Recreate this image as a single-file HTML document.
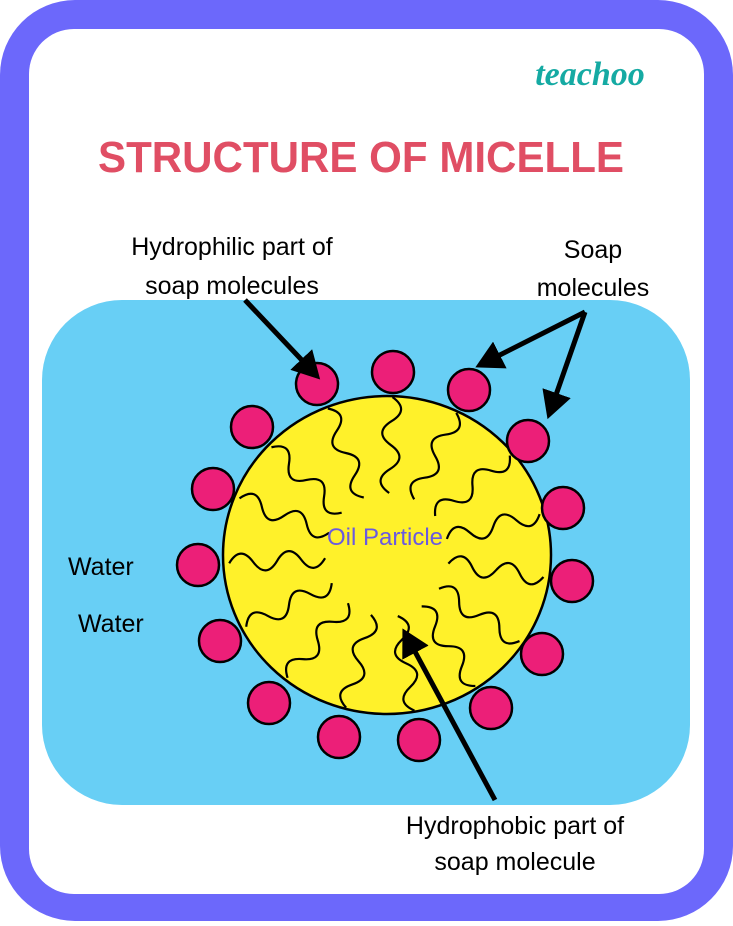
<!DOCTYPE html>
<html><head><meta charset="utf-8"><style>html,body{margin:0;padding:0;background:#fff}</style></head>
<body>
<svg width="733" height="921" viewBox="0 0 733 921" xmlns="http://www.w3.org/2000/svg" font-family="Liberation Sans, sans-serif">
<defs>
<path id="sq" d="M0,0 q12,-18 24,0 t24,0 t24,0 t24,0" fill="none" stroke="#000" stroke-width="2.2"/>
<marker id="ah" markerWidth="6" markerHeight="6" refX="4" refY="3" orient="auto" markerUnits="strokeWidth"><path d="M0,0 L5.5,3 L0,6 z" fill="#000"/></marker>
</defs>
<rect x="0" y="0" width="733" height="921" rx="75" fill="#6c68fb"/>
<rect x="29" y="29" width="675" height="865" rx="45" fill="#fff"/>
<text x="590" y="85" font-family="Liberation Serif, serif" font-style="italic" font-weight="bold" font-size="34" fill="#15aaa3" text-anchor="middle">teachoo</text>
<text x="361" y="172" font-weight="bold" font-size="44" fill="#e04e64" text-anchor="middle" textLength="526" lengthAdjust="spacingAndGlyphs">STRUCTURE OF MICELLE</text>
<rect x="42" y="300" width="648" height="505" rx="80" fill="#68cff5"/>
<ellipse cx="387" cy="555" rx="164" ry="159" fill="#fff12a" stroke="#000" stroke-width="2.5"/>
<g fill="#ec1f78" stroke="#000" stroke-width="2.5">
<circle cx="317" cy="384" r="21"/><circle cx="393" cy="372" r="21"/><circle cx="469" cy="390" r="21"/>
<circle cx="528" cy="441" r="21"/><circle cx="252" cy="427" r="21"/><circle cx="213" cy="489" r="21"/>
<circle cx="198" cy="565" r="21"/><circle cx="220" cy="641" r="21"/><circle cx="269" cy="703" r="21"/>
<circle cx="339" cy="737" r="21"/><circle cx="419" cy="740" r="21"/><circle cx="491" cy="708" r="21"/>
<circle cx="542" cy="654" r="21"/><circle cx="572" cy="581" r="21"/><circle cx="563" cy="508" r="21"/>
</g>
<g transform="translate(387,555)">
<use href="#sq" transform="rotate(-112) translate(158,0) rotate(180)"/>
<use href="#sq" transform="rotate(-88) translate(158,0) rotate(180)"/>
<use href="#sq" transform="rotate(-64) translate(158,0) rotate(180)"/>
<use href="#sq" transform="rotate(-39) translate(158,0) rotate(180)"/>
<use href="#sq" transform="rotate(-137) translate(158,0) rotate(180)"/>
<use href="#sq" transform="rotate(-159) translate(158,0) rotate(180)"/>
<use href="#sq" transform="rotate(177) translate(158,0) rotate(180)"/>
<use href="#sq" transform="rotate(153) translate(158,0) rotate(180)"/>
<use href="#sq" transform="rotate(129) translate(158,0) rotate(180)"/>
<use href="#sq" transform="rotate(105) translate(158,0) rotate(180)"/>
<use href="#sq" transform="rotate(80) translate(158,0) rotate(180)"/>
<use href="#sq" transform="rotate(56) translate(158,0) rotate(180)"/>
<use href="#sq" transform="rotate(33) translate(158,0) rotate(180)"/>
<use href="#sq" transform="rotate(8) translate(158,0) rotate(180)"/>
<use href="#sq" transform="rotate(-15) translate(158,0) rotate(180)"/>
</g>
<text x="385" y="545" font-size="24" fill="#6a5ae0" text-anchor="middle">Oil Particle</text>
<g stroke="#000" stroke-width="5" fill="none" marker-end="url(#ah)">
<line x1="245" y1="300" x2="315" y2="374"/>
<line x1="585" y1="312" x2="482" y2="364"/>
<line x1="585" y1="312" x2="550" y2="412"/>
<line x1="495" y1="800" x2="406" y2="635"/>
</g>
<g font-size="25" fill="#000" text-anchor="middle">
<text x="232" y="255">Hydrophilic part of</text>
<text x="232" y="294">soap molecules</text>
<text x="593" y="258">Soap</text>
<text x="593" y="296">molecules</text>
<text x="515" y="834">Hydrophobic part of</text>
<text x="515" y="870">soap molecule</text>
</g>
<g font-size="25" fill="#000">
<text x="68" y="575">Water</text>
<text x="78" y="632">Water</text>
</g>
</svg>
</body></html>
